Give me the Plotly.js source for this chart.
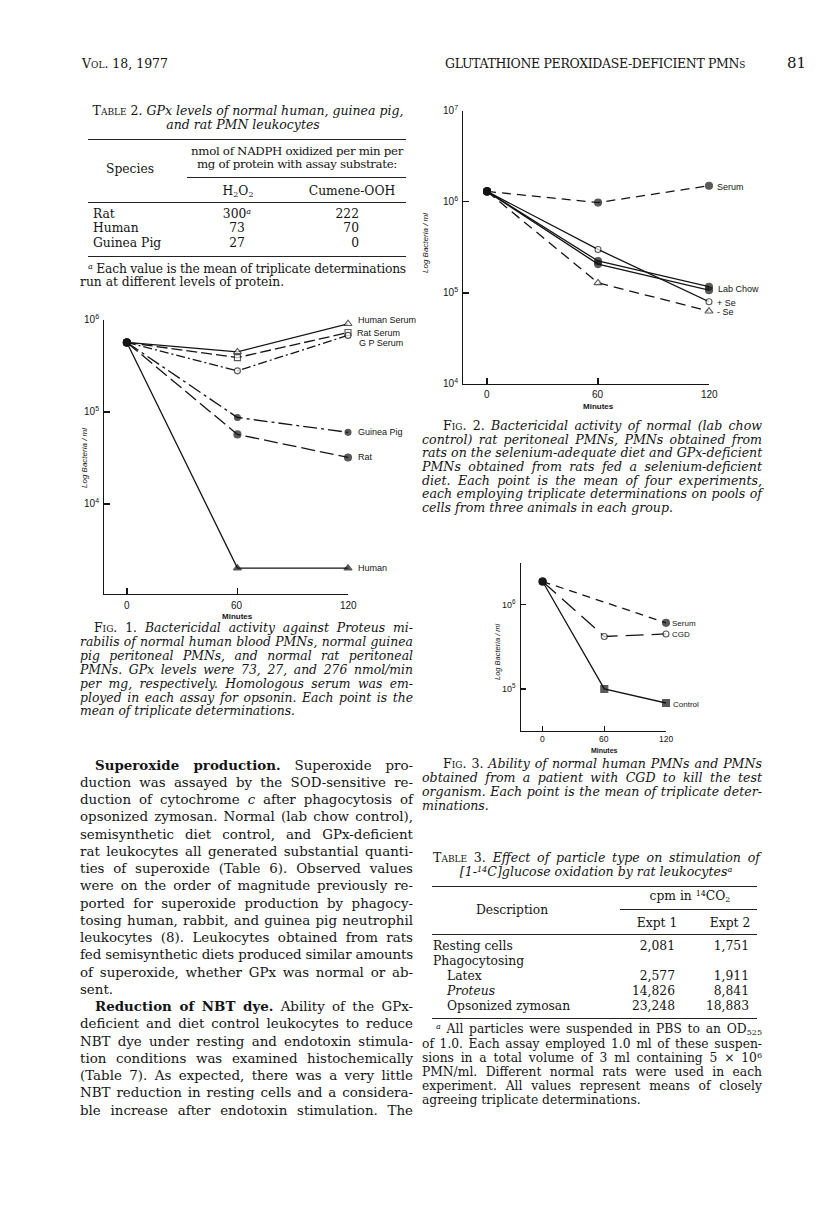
<!DOCTYPE html>
<html><head><meta charset="utf-8">
<script src="https://cdn.plot.ly/plotly-3.0.1.min.js"></script>
<style>
html,body{margin:0;padding:0;background:#fff;}
#page{position:relative;width:816px;height:1230px;overflow:hidden;background:#fff;}
#chart{position:absolute;left:0;top:0;width:816px;height:1230px;}
.t{position:absolute;white-space:nowrap;color:#141414;font-family:"DejaVu Serif",serif;line-height:1.15;z-index:5;}
.t span.in{display:inline-block;white-space:nowrap;}
.sc{font-variant:small-caps;font-style:normal;}
.rule{position:absolute;height:0;border-top:1.2px solid #222;z-index:5;}
.t sup,.t sub{vertical-align:baseline;position:relative;}
.t sup{top:-0.5em;}
.t sub{top:0.25em;}
</style></head>
<body><div id="page"><div id="chart"></div></div>
<script>
// ---------------- DATA ----------------
const minutes = [0, 60, 120];
// Fig. 1  (bacteria / ml)
const f1HumanSerum = [5.7e5, 4.5e5, 9.1e5];
const f1RatSerum   = [5.7e5, 3.9e5, 7.3e5];
const f1GPSerum    = [5.7e5, 2.8e5, 6.8e5];
const f1GuineaPig  = [5.7e5, 8.7e4, 6.0e4];
const f1Rat        = [5.7e5, 5.7e4, 3.2e4];
const f1Human      = [5.7e5, 2.0e3, 2.0e3];
const f1Labels = ['Human Serum', 'Rat Serum', 'G P Serum', 'Guinea Pig', 'Rat', 'Human'];
// Fig. 2
const f2Serum     = [1.3e6, 9.8e5, 1.5e6];
const f2PlusSe    = [1.3e6, 3.0e5, 8.0e4];
const f2LabChowA  = [1.3e6, 2.24e5, 1.17e5];
const f2LabChowB  = [1.3e6, 2.07e5, 1.07e5];
const f2MinusSe   = [1.3e6, 1.29e5, 6.3e4];
const f2Labels = ['Serum', 'Lab Chow', '+ Se', '- Se'];
// Fig. 3
const f3SerumMinutes = [0, 120];
const f3Serum   = [1.89e6, 6.1e5];
const f3CGD     = [1.89e6, 4.2e5, 4.5e5];
const f3Control = [1.89e6, 1.0e5, 6.8e4];
const f3Labels = ['Serum', 'CGD', 'Control'];
// Tick labels
const xTicks = [0, 60, 120];
const xTickText = ['0', '60', '120'];
const f1YTicks = [1e4, 1e5, 1e6];
const f1YText = ['10<sup>4</sup>', '10<sup>5</sup>', '10<sup>6</sup>'];
const f2YTicks = [1e4, 1e5, 1e6, 1e7];
const f2YText = ['10<sup>4</sup>', '10<sup>5</sup>', '10<sup>6</sup>', '10<sup>7</sup>'];
const f3YTicks = [1e5, 1e6];
const f3YText = ['10<sup>5</sup>', '10<sup>6</sup>'];
// Table 2
const t2Species = ['Rat', 'Human', 'Guinea Pig'];
const t2H2O2 = ['300<sup><i>a</i></sup>', '73', '27'];
const t2Cumene = ['222', '70', '0'];
// Table 3
const t3Desc = ['Resting cells', 'Phagocytosing', 'Latex', '<i>Proteus</i>', 'Opsonized zymosan'];
const t3Expt1 = ['2,081', '', '2,577', '14,826', '23,248'];
const t3Expt2 = ['1,751', '', '1,911', '8,841', '18,883'];

// ---------------- CHART ----------------
const W = 816, H = 1230;
const px = v => v / W, py = v => 1 - v / H;
const INK = '#141414';
const axBase = {showgrid:false, zeroline:false, showline:true, linecolor:INK, linewidth:1.3,
  ticks:'inside', ticklen:6, tickwidth:1.3, tickcolor:INK, fixedrange:true, showticklabels:false};

function tr(xa, ya, xs, ys, dash, sym, fill, size) {
  const n = ys.length;
  const syms = [], sizes = [], cols = [];
  for (let i = 0; i < n; i++) {
    if (i === 0) { syms.push('circle'); sizes.push(7); cols.push(INK); }
    else { syms.push(sym); sizes.push(size); cols.push(fill ? INK : '#fff'); }
  }
  return {type:'scatter', mode:'lines+markers', x:xs, y:ys, xaxis:xa, yaxis:ya, cliponaxis:false,
    hoverinfo:'skip', line:{color:INK, width:1.3, dash:dash},
    marker:{symbol:syms, size:sizes, color:cols, line:{color:INK, width:1.1}}};
}

const traces = [
  tr('x','y', minutes, f1HumanSerum, 'solid', 'triangle-up', false, 7),
  tr('x','y', minutes, f1RatSerum, '11px,4px', 'square', false, 6),
  tr('x','y', minutes, f1GPSerum, '9px,3px,2px,3px', 'circle', false, 6),
  tr('x','y', minutes, f1GuineaPig, '14px,4px,3px,4px', 'circle', true, 6),
  tr('x','y', minutes, f1Rat, '14px,5px', 'circle', true, 7),
  tr('x','y', minutes, f1Human, 'solid', 'triangle-up', true, 7),

  tr('x2','y2', minutes, f2Serum, '9px,6px', 'circle', true, 7),
  tr('x2','y2', minutes, f2LabChowA, 'solid', 'circle', true, 7),
  tr('x2','y2', minutes, f2LabChowB, 'solid', 'circle', true, 7),
  tr('x2','y2', minutes, f2PlusSe, 'solid', 'circle', false, 6),
  tr('x2','y2', minutes, f2MinusSe, '10px,6px', 'triangle-up', false, 7),

  tr('x3','y3', f3SerumMinutes, f3Serum, '8px,6px', 'circle', true, 7),
  tr('x3','y3', minutes, f3CGD, '18px,8px', 'circle', false, 6),
  tr('x3','y3', minutes, f3Control, 'solid', 'square', true, 7)
];

const L10 = Math.log10;
const SANS = 'Liberation Sans';
function lab(xr, yr, x, y, text, yshift, xshift, size) {
  return {xref:xr, yref:yr, x:x, y:L10(y), text:text, showarrow:false, xanchor:'left', yanchor:'middle',
    xshift:xshift, yshift:yshift, font:{family:SANS, size:size||9, color:INK}};
}
function minutesLbl(xr, x, ypix, size) {
  return {xref:xr, yref:'paper', x:x, y:py(ypix), text:'<b>Minutes</b>', showarrow:false,
    xanchor:'center', yanchor:'middle', font:{family:SANS, size:size, color:INK}};
}
function yTitle(xpix, ypix, size) {
  return {xref:'paper', yref:'paper', x:px(xpix), y:py(ypix), text:'<i>Log Bacteria / ml</i>', textangle:-90,
    showarrow:false, xanchor:'center', yanchor:'middle', font:{family:SANS, size:size, color:INK}};
}
function xTickLabels(xr, ypix, size) {
  return xTicks.map((v, i) => ({xref:xr, yref:'paper', x:v, y:py(ypix), text:xTickText[i], showarrow:false,
    xanchor:'center', yanchor:'middle', font:{family:SANS, size:size, color:INK}}));
}
function yTickLabels(yr, vals, texts, xpix, size) {
  return vals.map((v, i) => ({xref:'paper', yref:yr, x:px(xpix), y:L10(v), text:texts[i], showarrow:false,
    xanchor:'right', yanchor:'middle', yshift:1, font:{family:SANS, size:size, color:INK}}));
}

const annotations = [
  lab('x','y',120, f1HumanSerum[2], f1Labels[0], 4, 8),
  lab('x','y',120, f1RatSerum[2], f1Labels[1], 0, 7),
  lab('x','y',120, f1GPSerum[2], f1Labels[2], -8, 9),
  lab('x','y',120, f1GuineaPig[2], f1Labels[3], 0, 8),
  lab('x','y',120, f1Rat[2], f1Labels[4], 0, 8),
  lab('x','y',120, f1Human[2], f1Labels[5], 0, 8),
  lab('x2','y2',120, f2Serum[2], f2Labels[0], -1, 6),
  lab('x2','y2',120, Math.sqrt(f2LabChowA[2]*f2LabChowB[2]), f2Labels[1], -1, 7),
  lab('x2','y2',120, f2PlusSe[2], f2Labels[2], -1, 6),
  lab('x2','y2',120, f2MinusSe[2], f2Labels[3], -1, 6),
  lab('x3','y3',120, f3Serum[1], f3Labels[0], -1, 4, 8),
  lab('x3','y3',120, f3CGD[2], f3Labels[1], -1, 4, 8),
  lab('x3','y3',120, f3Control[2], f3Labels[2], -1, 5, 8),
  minutesLbl('x', 60, 616, 8),
  minutesLbl('x2', 60, 406, 8),
  minutesLbl('x3', 60, 750, 7),
  yTitle(85, 458, 8),
  yTitle(426, 243, 8),
  yTitle(498, 652, 7.5)
].concat(
  xTickLabels('x', 605, 10),
  xTickLabels('x2', 394, 10),
  xTickLabels('x3', 739, 8.5),
  yTickLabels('y', f1YTicks, f1YText, 101, 10),
  yTickLabels('y2', f2YTicks, f2YText, 460, 10),
  yTickLabels('y3', f3YTicks, f3YText, 518, 9)
);

const layout = {
  width:W, height:H, margin:{l:0,r:0,t:0,b:0,pad:0}, showlegend:false,
  paper_bgcolor:'#fff', plot_bgcolor:'rgba(0,0,0,0)',
  font:{family:SANS, color:INK},
  xaxis: Object.assign({}, axBase, {domain:[px(104), px(348)], range:[-12.4, 120], anchor:'y', tickvals:xTicks}),
  yaxis: Object.assign({}, axBase, {domain:[py(594), py(320)], type:'log', range:[3.02, 6], anchor:'x', tickvals:f1YTicks}),
  xaxis2: Object.assign({}, axBase, {domain:[px(463), px(709)], range:[-13, 120], anchor:'y2', tickvals:xTicks}),
  yaxis2: Object.assign({}, axBase, {domain:[py(384), py(110.7)], type:'log', range:[4, 7], anchor:'x2', tickvals:f2YTicks}),
  xaxis3: Object.assign({}, axBase, {domain:[px(521), px(666)], range:[-21, 120], anchor:'y3', tickvals:xTicks, ticklen:5}),
  yaxis3: Object.assign({}, axBase, {domain:[py(731), py(562.7)], type:'log', range:[4.5, 6.5], anchor:'x3', tickvals:f3YTicks, ticklen:5}),
  annotations: annotations
};

Plotly.newPlot('chart', traces, layout, {staticPlot:true, displayModeBar:false});

// ---------------- PAGE TEXT ----------------
const page = document.getElementById('page');
function T(x, y, html, o) {
  o = o || {};
  const size = o.size || 13;
  const d = document.createElement('div');
  d.className = 't';
  d.style.fontSize = size + 'px';
  if (o.bold) d.style.fontWeight = 'bold';
  const s = document.createElement('span');
  s.className = 'in';
  s.style.fontSize = size + 'px';
  s.innerHTML = o.italic ? '<i>' + html + '</i>' : html;
  d.appendChild(s);
  page.appendChild(d);
  s.querySelectorAll('*').forEach(el => {
    const tag = el.tagName.toLowerCase();
    const parentSize = parseFloat(getComputedStyle(el.parentNode).fontSize);
    el.style.fontSize = ((tag === 'sup' || tag === 'sub') ? parentSize * 0.65 : parentSize).toFixed(2) + 'px';
  });
  d.style.top = (y - size * 0.62) + 'px';
  const nat = s.getBoundingClientRect().width;
  const txt = s.textContent;
  let width = nat;
  if (o.w) {
    if (nat > o.w) { s.style.letterSpacing = ((o.w - nat) / txt.length) + 'px'; width = o.w; }
    else if (o.justify) {
      const n = (txt.match(/ /g) || []).length;
      if (n) { s.style.wordSpacing = ((o.w - nat) / n) + 'px'; width = o.w; }
    }
  }
  const a = o.anchor || 'left';
  d.style.left = (a === 'left' ? x : a === 'center' ? x - width / 2 : x - width) + 'px';
}
function R(x1, x2, y, th) {
  const d = document.createElement('div');
  d.className = 'rule';
  d.style.left = x1 + 'px'; d.style.width = (x2 - x1) + 'px';
  d.style.top = y + 'px';
  d.style.borderTopWidth = (th || 1.2) + 'px';
  page.appendChild(d);
}
function para(lines, x, w, y0, step, opts, indent, lastJust) {
  lines.forEach((ln, i) => {
    const ind = (i === 0) ? indent : 0;
    const o = Object.assign({}, opts, {w: w - ind, justify: (i < lines.length - 1) || lastJust});
    T(x + ind, y0 + i * step, ln, o);
  });
}

const LX = 80, LW = 333, RX = 422, RW = 340;

// Running head
T(82, 65, '<span class="sc">Vol.</span> 18, 1977', {size:12.5});
T(745, 65, 'GLUTATHIONE PEROXIDASE-DEFICIENT PMN<span class="sc">s</span>', {size:12.5, anchor:'right', w:300});
T(806, 64, '81', {size:15, anchor:'right'});

// Table 2
T(248, 112, '<span class="sc">Table 2.</span> <i>GPx levels of normal human, guinea pig,</i>', {size:12.5, anchor:'center', w:322});
T(243, 126, '<i>and rat PMN leukocytes</i>', {size:12.5, anchor:'center'});
R(88, 406, 139, 1.6);
T(297, 152, 'nmol of NADPH oxidized per min per', {size:11.8, anchor:'center', w:212});
T(297, 165, 'mg of protein with assay substrate:', {size:11.8, anchor:'center', w:200});
T(130, 170, 'Species', {size:12.3, anchor:'center'});
R(187, 406, 177, 1.2);
T(238, 192, 'H<sub>2</sub>O<sub>2</sub>', {size:12.3, anchor:'center'});
T(352, 192, 'Cumene-OOH', {size:12.3, anchor:'center'});
R(88, 406, 202, 1.2);
const t2y = [215, 229, 244];
t2Species.forEach((s, i) => {
  T(93, t2y[i], s, {size:12.3});
  T(237, t2y[i], t2H2O2[i], {size:12.3, anchor:'center'});
  T(359, t2y[i], t2Cumene[i], {size:12.3, anchor:'right'});
});
R(88, 406, 256, 1.6);
T(88, 270, '<sup><i>a</i></sup> Each value is the mean of triplicate determinations', {size:12.3, w:318});
T(LX, 283, 'run at different levels of protein.', {size:12.3});

// Fig. 1 caption
const cap1 = [
  '<span class="sc">Fig. 1.</span> Bactericidal activity against Proteus mi-',
  'rabilis of normal human blood PMNs, normal guinea',
  'pig peritoneal PMNs, and normal rat peritoneal',
  'PMNs. GPx levels were 73, 27, and 276 nmol/min',
  'per mg, respectively. Homologous serum was em-',
  'ployed in each assay for opsonin. Each point is the',
  'mean of triplicate determinations.'];
para(cap1, LX, LW, 629, 13.85, {size:12.4, italic:true}, 14, false);

// Body text
const body1 = [
  '<b>Superoxide production.</b> Superoxide pro-',
  'duction was assayed by the SOD-sensitive re-',
  'duction of cytochrome <i>c</i> after phagocytosis of',
  'opsonized zymosan. Normal (lab chow control),',
  'semisynthetic diet control, and GPx-deficient',
  'rat leukocytes all generated substantial quanti-',
  'ties of superoxide (Table 6). Observed values',
  'were on the order of magnitude previously re-',
  'ported for superoxide production by phagocy-',
  'tosing human, rabbit, and guinea pig neutrophil',
  'leukocytes (8). Leukocytes obtained from rats',
  'fed semisynthetic diets produced similar amounts',
  'of superoxide, whether GPx was normal or ab-',
  'sent.'];
const body2 = [
  '<b>Reduction of NBT dye.</b> Ability of the GPx-',
  'deficient and diet control leukocytes to reduce',
  'NBT dye under resting and endotoxin stimula-',
  'tion conditions was examined histochemically',
  '(Table 7). As expected, there was a very little',
  'NBT reduction in resting cells and a considera-',
  'ble increase after endotoxin stimulation. The'];
const BSTEP = 17.25;
para(body1, LX, LW, 766, BSTEP, {size:13.4}, 15, false);
para(body2, LX, LW, 766 + 14 * BSTEP, BSTEP, {size:13.4}, 15, true);

// Fig. 2 caption
const cap2 = [
  '<span class="sc">Fig. 2.</span> Bactericidal activity of normal (lab chow',
  'control) rat peritoneal PMNs, PMNs obtained from',
  'rats on the selenium-adequate diet and GPx-deficient',
  'PMNs obtained from rats fed a selenium-deficient',
  'diet. Each point is the mean of four experiments,',
  'each employing triplicate determinations on pools of',
  'cells from three animals in each group.'];
para(cap2, RX, RW, 427, 13.6, {size:12.6, italic:true}, 21, false);

// Fig. 3 caption
const cap3 = [
  '<span class="sc">Fig. 3.</span> Ability of normal human PMNs and PMNs',
  'obtained from a patient with CGD to kill the test',
  'organism. Each point is the mean of triplicate deter-',
  'minations.'];
para(cap3, RX, RW, 765, 14, {size:12.6, italic:true}, 21, false);

// Table 3
T(433, 859, '<span class="sc">Table 3.</span> <i>Effect of particle type on stimulation of</i>', {size:12.6, w:327, justify:true});
T(596, 873, '<i>[1-<sup>14</sup>C]glucose oxidation by rat leukocytes</i><sup><i>a</i></sup>', {size:12.6, anchor:'center'});
R(432, 757, 886, 1.6);
T(690, 897, 'cpm in <sup>14</sup>CO<sub>2</sub>', {size:12.3, anchor:'center'});
T(512, 911, 'Description', {size:12.3, anchor:'center'});
R(620, 757, 909, 1.2);
T(657, 924, 'Expt 1', {size:12.3, anchor:'center'});
T(730, 924, 'Expt 2', {size:12.3, anchor:'center'});
R(432, 757, 934, 1.2);
const t3y = [947, 962, 977, 992, 1007];
const t3x = [433, 433, 447, 447, 447];
t3Desc.forEach((s, i) => {
  T(t3x[i], t3y[i], s, {size:12.3});
  if (t3Expt1[i]) T(675, t3y[i], t3Expt1[i], {size:12.3, anchor:'right'});
  if (t3Expt2[i]) T(749, t3y[i], t3Expt2[i], {size:12.3, anchor:'right'});
});
R(432, 757, 1018, 1.6);
const foot3 = [
  '<sup><i>a</i></sup> All particles were suspended in PBS to an OD<sub>525</sub>',
  'of 1.0. Each assay employed 1.0 ml of these suspen-',
  'sions in a total volume of 3 ml containing 5 × 10<sup>6</sup>',
  'PMN/ml. Different normal rats were used in each',
  'experiment. All values represent means of closely',
  'agreeing triplicate determinations.'];
para(foot3, RX, RW, 1030, 14.2, {size:12.3}, 14, false);
</script>
</body></html>
